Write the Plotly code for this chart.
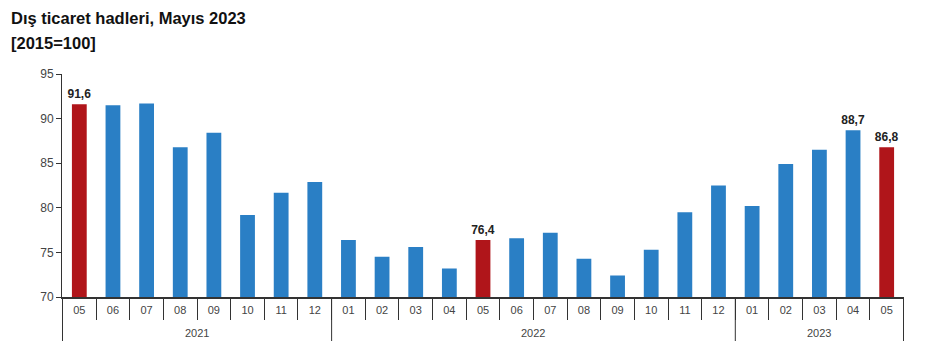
import plotly.graph_objects as go

years = ["2021"] * 8 + ["2022"] * 12 + ["2023"] * 5
months = ["05", "06", "07", "08", "09", "10", "11", "12",
          "01", "02", "03", "04", "05", "06", "07", "08", "09", "10", "11", "12",
          "01", "02", "03", "04", "05"]
values = [91.6, 91.5, 91.7, 86.8, 88.4, 79.2, 81.7, 82.9,
          76.4, 74.5, 75.6, 73.2, 76.4, 76.6, 77.2, 74.3, 72.4, 75.3, 79.5, 82.5,
          80.2, 84.9, 86.5, 88.7, 86.8]
highlight = [0, 12, 24]          # May bars drawn in red
labelled = [0, 12, 23, 24]       # bars carrying a value label
year_names = ["2021", "2022", "2023"]

BLUE = "#2A7FC5"
RED = "#B0151A"
LINE = "#333333"
FONT = "Liberation Sans, Arial, sans-serif"

# page body adds an 8px offset, so the figure is 8px smaller each way
W, H = 921, 352
L, R, T, B = 54, 25, 66, 63
PLOT_H = H - T - B
PLOT_W = W - L - R

cats = [f"{y}-{m}" for y, m in zip(years, months)]
colors = [RED if i in highlight else BLUE for i in range(len(values))]
texts = [("<b>" + f"{v:.1f}".replace(".", ",") + "</b>") if i in labelled else ""
         for i, v in enumerate(values)]

fig = go.Figure(go.Bar(
    x=cats,
    y=values,
    marker=dict(color=colors, line=dict(width=0)),
    text=texts,
    textposition="outside",
    cliponaxis=False,
    textfont=dict(family=FONT, size=12, color="#222"),
    hoverinfo="y",
))

fig.update_layout(
    width=W, height=H,
    paper_bgcolor="white", plot_bgcolor="white",
    margin=dict(l=L, r=R, t=T, b=B, autoexpand=False),
    bargap=0.56,
    showlegend=False,
    font=dict(family=FONT, size=11, color="#444"),
    uniformtext=dict(minsize=8, mode="show"),
)

fig.add_annotation(text="<b>Dış ticaret hadleri, Mayıs 2023</b>", xref="paper", yref="paper",
                   x=-(L - 1) / PLOT_W, y=1 + (T - 10) / PLOT_H, xanchor="left", yanchor="middle",
                   showarrow=False, font=dict(size=16.5, color="#111"))
fig.add_annotation(text="<b>[2015=100]</b>", xref="paper", yref="paper",
                   x=-(L - 1) / PLOT_W, y=1 + (T - 35) / PLOT_H, xanchor="left", yanchor="middle",
                   showarrow=False, font=dict(size=16.5, color="#111"))

# year group dividers and labels, positioned on the category axis
start = 0
bounds = [-0.5]
for name in year_names:
    n = years.count(name)
    end = start + n
    bounds.append(end - 0.5)
    fig.add_annotation(text=name, xref="x", yref="paper",
                       x=(start + end - 1) / 2, y=-36 / PLOT_H, yanchor="middle",
                       showarrow=False, font=dict(size=11, color="#444"))
    start = end
for b in bounds:
    fig.add_shape(type="line", xref="x", yref="paper", x0=b, x1=b,
                  y0=0, y1=-44 / PLOT_H, line=dict(color=LINE, width=1))

fig.update_yaxes(
    range=[70, 95], dtick=5, showgrid=False, zeroline=False,
    showline=True, linecolor=LINE, linewidth=1, automargin=False,
    ticks="outside", ticklen=5, tickcolor=LINE,
    tickfont=dict(size=12, color="#444"),
)
fig.update_xaxes(
    type="category", automargin=False,
    tickmode="array", tickvals=cats, ticktext=months,
    showline=True, linecolor=LINE, linewidth=1.5,
    ticks="outside", tickson="boundaries", ticklen=21, tickcolor=LINE,
    ticklabelstandoff=2,
    tickfont=dict(size=11, color="#444"),
    showgrid=False,
)

fig.write_html("out.html")
